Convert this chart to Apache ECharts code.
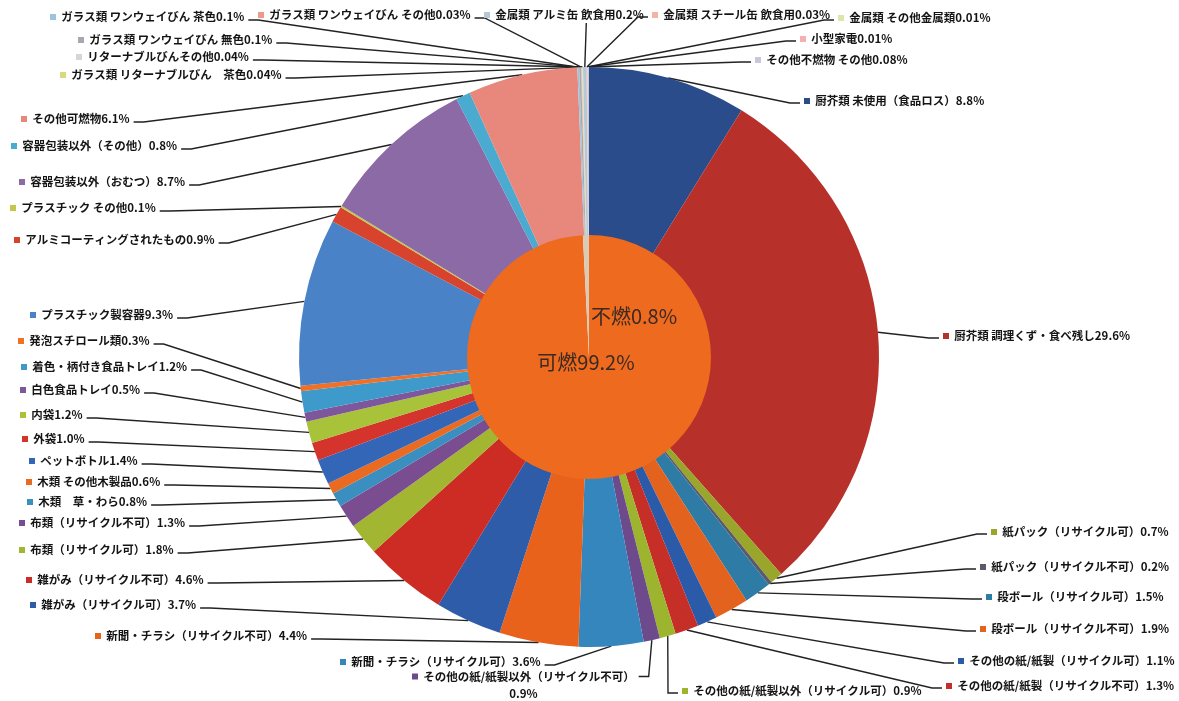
<!DOCTYPE html>
<html><head><meta charset="utf-8">
<script src="https://cdn.jsdelivr.net/npm/echarts/dist/echarts.min.js"></script>
<style>html,body{margin:0;padding:0;background:#fff}#c{width:1179px;height:701px}</style>
</head><body><div id="c"></div>
<script>
// ---- data ----
const outerNames = [
  '厨芥類 未使用（食品ロス）','厨芥類 調理くず・食べ残し','紙パック（リサイクル可）','紙パック（リサイクル不可）',
  '段ボール（リサイクル可）','段ボール（リサイクル不可）','その他の紙/紙製（リサイクル可）','その他の紙/紙製（リサイクル不可）',
  'その他の紙/紙製以外（リサイクル可）','その他の紙/紙製以外（リサイクル不可）','新聞・チラシ（リサイクル可）','新聞・チラシ（リサイクル不可）',
  '雑がみ（リサイクル可）','雑がみ（リサイクル不可）','布類（リサイクル可）','布類（リサイクル不可）',
  '木類　草・わら','木類 その他木製品','ペットボトル','外袋','内袋','白色食品トレイ','着色・柄付き食品トレイ','発泡スチロール類',
  'プラスチック製容器','アルミコーティングされたもの','プラスチック その他','容器包装以外（おむつ）','容器包装以外（その他）','その他可燃物',
  'ガラス類 ワンウェイびん 茶色','ガラス類 ワンウェイびん 無色','ガラス類 ワンウェイびん その他','ガラス類 リターナブルびん　茶色',
  'リターナブルびんその他','金属類 アルミ缶 飲食用','金属類 スチール缶 飲食用','金属類 その他金属類','小型家電','その他不燃物 その他'
];
const outerValues = [
  8.8, 29.6, 0.7, 0.2,
  1.5, 1.9, 1.1, 1.3,
  0.9, 0.9, 3.6, 4.4,
  3.7, 4.6, 1.8, 1.3,
  0.8, 0.6, 1.4, 1.0, 1.2, 0.5, 1.2, 0.3,
  9.3, 0.9, 0.1, 8.7, 0.8, 6.1,
  0.1, 0.1, 0.03, 0.04,
  0.04, 0.2, 0.03, 0.01, 0.01, 0.08
];
const innerNames = ['可燃', '不燃'];
const innerValues = [99.2, 0.8];

// ---- styles / layout ----
const outerColors = [
  '#2A4C8A','#B8302A','#9AA52C','#5A5A6A',
  '#2E7BA6','#E2621E','#2A5AA8','#C52F28',
  '#9DB52E','#6C4A8C','#3486BC','#E8621C',
  '#2E5CA8','#CC2C24','#A3B632','#7A4C90',
  '#3A8EC0','#EA6A22','#3466B8','#D4342C','#A8C23A','#7E569C','#3E9ACA','#F07028',
  '#4A82C8','#D8432E','#C2C84C','#8C6AA6','#4AAAD0','#E8877C',
  '#9CC4DC','#A8A8B0','#EE9A88','#D8DA80',
  '#D6D6DA','#B4C8D8','#F4B4A4','#DCE6A8','#F4B0B0','#C8C8DC'
];
const innerColors = ['#EE6A1E', '#D9CBB8'];
const outerLabelAnchors = [
  [804,101],[943,336],[991,532],[980,567],
  [986,597],[980,629],[958,661],[946,686],
  [682,691],[412,685],[340,662],[95,636],
  [30,605],[26,580],[19,550],[19,523],
  [27,502],[26,482],[29,461],[22,439],[20,415],[20,390],[21,367],[18,341],
  [30,315],[14,240],[10,208],[19,182],[11,146],[21,119],
  [50,17],[78,40],[258,15],[60,75],
  [76,57],[484,15],[652,15],[838,18],[800,39],[755,60]
];
const innerLabelAnchors = [[586,362],[634,316]];
const CX = 589, CY = 357;
const WRAP_NAME = 'その他の紙/紙製以外（リサイクル不可）';
const VERT_NAME = '金属類 アルミ缶 飲食用';

function fmt(v) { return v < 0.095 ? v.toFixed(2) : v.toFixed(1); }

const chart = echarts.init(document.getElementById('c'), null, {renderer: 'canvas'});

const outerData = outerNames.map((n, i) => ({
  name: n, value: outerValues[i],
  itemStyle: {color: outerColors[i]},
  label: {rich: {sq: {width: 6, height: 6, backgroundColor: outerColors[i]}}}
}));
const innerData = innerNames.map((n, i) => ({
  name: n, value: innerValues[i],
  itemStyle: {color: innerColors[i]},
  labelLine: {show: i === 1}
}));

chart.setOption({
  backgroundColor: '#ffffff',
  animation: false,
  series: [
    {
      type: 'pie',
      center: [CX, CY],
      radius: [120, 290],
      startAngle: 90,
      clockwise: true,
      avoidLabelOverlap: false,
      data: outerData,
      itemStyle: {borderWidth: 0},
      label: {
        show: true,
        position: 'outer',
        alignTo: 'none',
        fontFamily: "'Noto Sans CJK JP', sans-serif",
        fontSize: 11.5,
        fontWeight: 'bold',
        color: '#141414',
        lineHeight: 17,
        formatter: function (p) {
          const t = p.name === WRAP_NAME
            ? p.name + '\n' + fmt(p.value) + '%'
            : p.name + fmt(p.value) + '%';
          return '{sq|}  ' + t;
        },
        rich: {sq: {width: 6, height: 6}}
      },
      labelLine: {show: true, length: 10, length2: 10, lineStyle: {color: '#222', width: 1.4}},
      labelLayout: function (p) {
        const a = outerLabelAnchors[p.dataIndex];
        const w = p.labelRect.width, h = p.labelRect.height;
        const name = outerNames[p.dataIndex];
        const p0 = p.labelLinePoints ? p.labelLinePoints[0] : [CX, CY];
        let x = a[0], align = 'left', end, mid;
        if (name === WRAP_NAME) {
          align = 'center'; x = a[0] + w / 2;
          end = [a[0] + w + 4, a[1] - h / 4];
          mid = [end[0] + 10, end[1]];
        } else if (name === VERT_NAME) {
          end = [a[0] + w * 0.64, a[1] + 8];
          mid = end;
        } else if (a[0] < CX) {
          end = [a[0] + w + 4, a[1] + 3];
          mid = [end[0] + 10, end[1]];
        } else {
          end = [a[0] - 4, a[1] + 2];
          mid = [end[0] - 10, end[1]];
        }
        return {x: x, y: a[1], align: align, verticalAlign: 'middle', labelLinePoints: [p0, mid, end]};
      }
    },
    {
      type: 'pie',
      center: [CX, CY],
      radius: [0, 122],
      startAngle: 90,
      clockwise: true,
      avoidLabelOverlap: false,
      data: innerData,
      label: {
        show: true,
        position: 'outer',
        fontFamily: "'Noto Sans CJK JP', sans-serif",
        fontSize: 20,
        color: '#3a2a22',
        formatter: function (p) { return p.name + fmt(p.value) + '%'; }
      },
      labelLine: {length: 10, length2: 10, lineStyle: {color: '#3a3a3a', width: 1.2}},
      labelLayout: function (p) {
        const a = innerLabelAnchors[p.dataIndex];
        const res = {x: a[0], y: a[1], align: 'center', verticalAlign: 'middle'};
        if (p.dataIndex === 1 && p.labelLinePoints) {
          const e = [a[0] + 11, a[1] - 16];
          res.labelLinePoints = [p.labelLinePoints[0], e, e];
        }
        return res;
      }
    }
  ]
});
</script>
</body></html>
